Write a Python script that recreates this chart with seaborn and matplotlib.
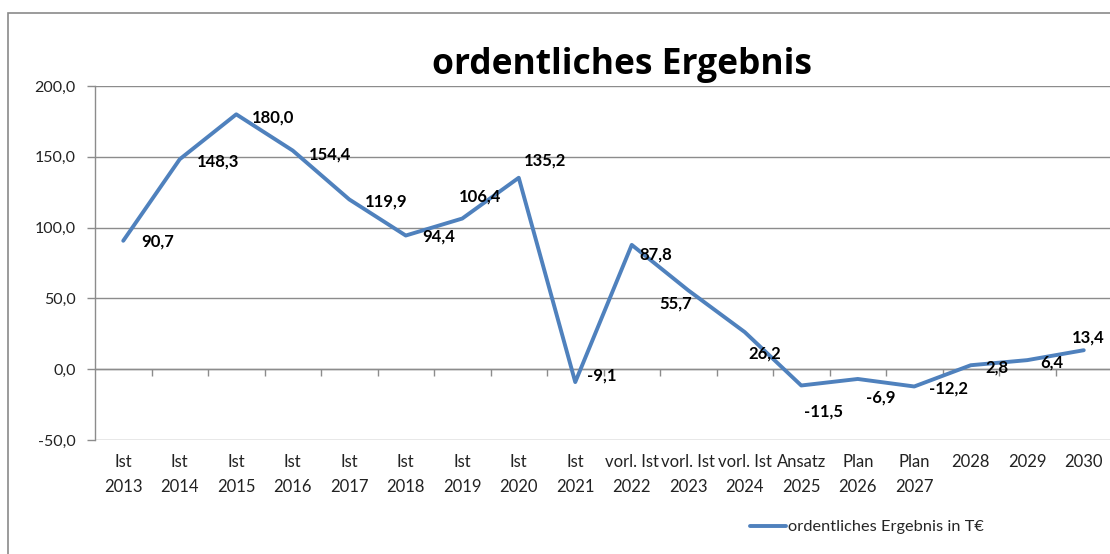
import numpy as np
import pandas as pd
import seaborn as sns
import matplotlib.pyplot as plt
from matplotlib.patches import Rectangle

# Daten
jahre = ['Ist\n2013', 'Ist\n2014', 'Ist\n2015', 'Ist\n2016', 'Ist\n2017', 'Ist\n2018',
         'Ist\n2019', 'Ist\n2020', 'Ist\n2021', 'vorl. Ist\n2022', 'vorl. Ist\n2023',
         'vorl. Ist\n2024', 'Ansatz\n2025', 'Plan\n2026', 'Plan\n2027', '2028', '2029', '2030']
ergebnis = [90.7, 148.3, 180.0, 154.4, 119.9, 94.4, 106.4, 135.2, -9.1,
            87.8, 55.7, 26.2, -11.5, -6.9, -12.2, 2.8, 6.4, 13.4]
y_ticks = [-50, 0, 50, 100, 150, 200]

# Versatz der Datenbeschriftungen (Pixel, rechts / unten)
label_offsets = [(34, 1), (38, 2), (37, 3), (37, 4), (37, 2), (33, 1), (18, -22), (26, -17),
                 (26, -7), (24, 10), (-13, 13), (20, 21), (22, 26), (23, 19), (34, 2),
                 (26, 2), (25, 2), (4, -13)]

df = pd.DataFrame({'jahr': jahre, 'wert': ergebnis})
df['pos'] = np.arange(len(df))

sns.set_style('white')
plt.rcParams['font.family'] = ['Lato', 'DejaVu Sans']

BLAU = '#4F81BD'
GRAU = '#8C8C8C'

fig = plt.figure(figsize=(11.1, 5.54), dpi=100)
ax = fig.add_axes([95 / 1110, 114 / 554, (1112 - 95) / 1110, 354 / 554])

sns.lineplot(data=df, x='pos', y='wert', color=BLAU, linewidth=2.8, sort=False, ax=ax,
             label='ordentliches Ergebnis in T€', legend=False)

ax.set_xlim(-0.5, len(jahre) - 0.5)
ax.set_ylim(min(y_ticks), max(y_ticks))
ax.set_yticks(y_ticks)
ax.set_yticklabels([f'{v:.1f}'.replace('.', ',') for v in y_ticks], fontsize=11.5, color='#222222')
ax.set_xticks(df['pos'])
ax.set_xticklabels(jahre, fontsize=12, color='#222222', linespacing=1.7)
ax.tick_params(axis='x', length=0, pad=10)
ax.tick_params(axis='y', length=6, width=1, color=GRAU, direction='out', pad=8, left=True)
ax.set_xlabel('')
ax.set_ylabel('')
ax.grid(axis='y', color=GRAU, linewidth=1)
ax.set_axisbelow(True)
for s in ['top', 'right', 'bottom']:
    ax.spines[s].set_visible(False)
ax.spines['left'].set_color(GRAU)
ax.spines['left'].set_linewidth(1)

# Nulllinie mit Teilstrichen zwischen den Kategorien
null_pos = (0 - min(y_ticks)) / (max(y_ticks) - min(y_ticks))
sec = ax.secondary_xaxis(null_pos)
sec.set_xticks(np.arange(len(jahre)) + 0.5)
sec.set_xticklabels([])
sec.tick_params(length=5, width=1, color=GRAU, direction='out')
sec.spines['bottom'].set_color(GRAU)
sec.spines['bottom'].set_linewidth(1)

for (x, y), (dx, dy) in zip(zip(df['pos'], df['wert']), label_offsets):
    ax.annotate(f'{y:.1f}'.replace('.', ','), (x, y), xytext=(dx, -dy),
                textcoords='offset pixels', ha='center', va='center',
                fontsize=12, fontweight='bold', color='black', annotation_clip=False)

fig.text(622 / 1110, 1 - 65 / 554, 'ordentliches Ergebnis', ha='center', va='center',
         fontsize=25.5, fontweight='bold', color='black', family=['Open Sans', 'DejaVu Sans'])

fig.legend(loc='center', bbox_to_anchor=(867 / 1110, 1 - 527 / 554), frameon=False,
           fontsize=11.8, handlelength=2.2, handletextpad=0.1)

fig.patches.append(Rectangle((8 / 1110, -0.1), 1.2, 0.1 + (554 - 13) / 554, transform=fig.transFigure,
                             fill=False, edgecolor='#8A8A8A', linewidth=1.2))

fig.savefig('out.png', dpi=100)
